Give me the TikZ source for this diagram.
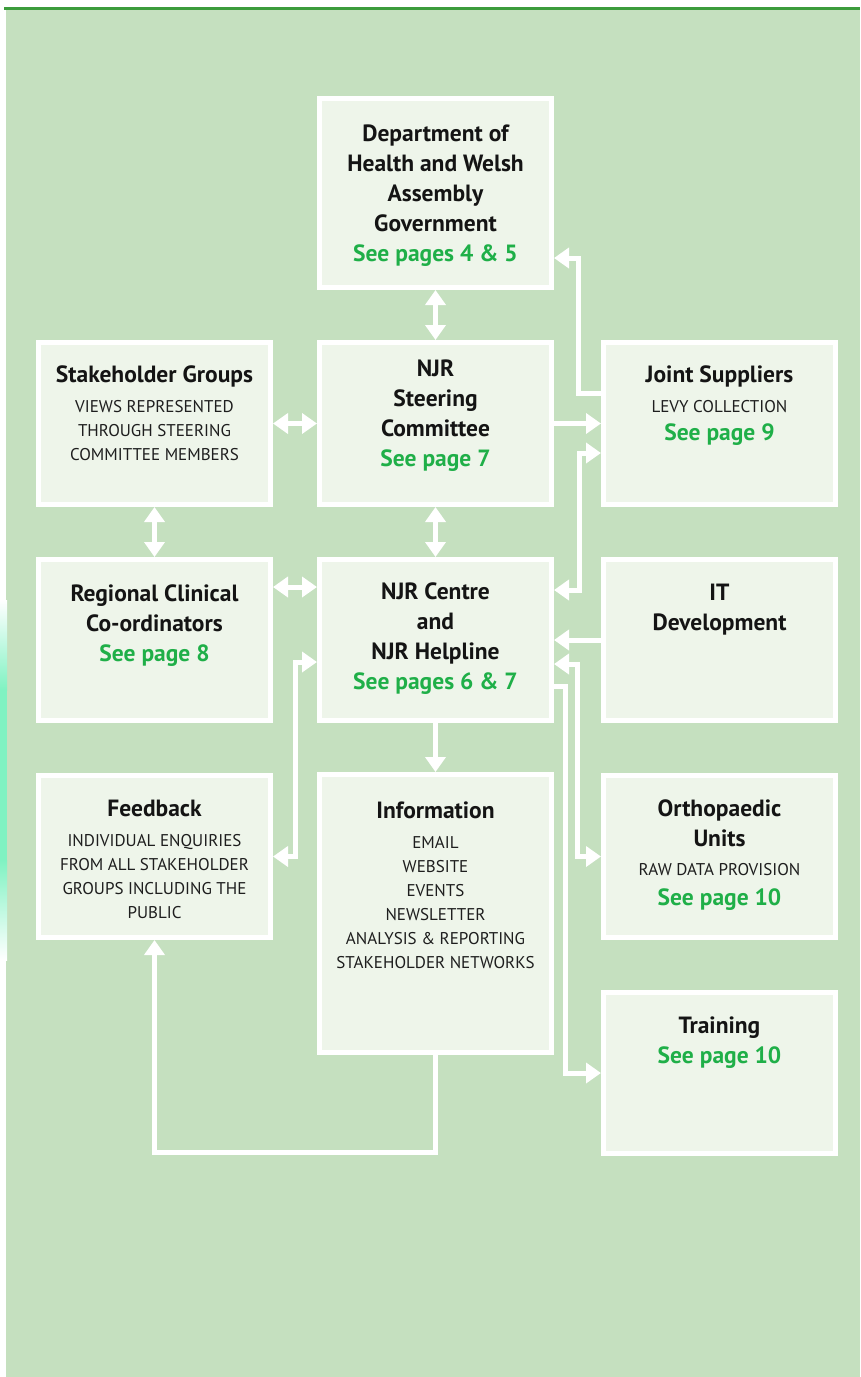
\documentclass[tikz,border=0pt]{standalone}
\usepackage{fontspec}
\setmainfont{PT Sans}
\usetikzlibrary{arrows.meta,positioning}
\definecolor{bggreen}{HTML}{C5E0BF}
\definecolor{boxgreen}{HTML}{EEF5EA}
\definecolor{topgreen}{HTML}{3C9C3C}
\definecolor{pagegreen}{HTML}{1FAF48}
\definecolor{capgray}{HTML}{1E1E1E}
\definecolor{mint}{HTML}{80F2C2}
\newcommand\pagesee[1]{{\color{pagegreen}#1}}
\newcommand\subcaps[1]{{\fontsize{17}{24}\selectfont\mdseries\color{capgray}#1}}

\begin{document}
\begin{tikzpicture}[x=1pt,y=-1pt,
	box/.style={draw=white,line width=5pt,fill=boxgreen,minimum width=232pt,inner sep=0pt},
	txt/.style={anchor=north,align=center,inner sep=0pt,text=black!92,font=\fontsize{23.5}{30}\selectfont\bfseries},
	link/.style={white,line width=5pt},
	arr/.style={link,-{Triangle[length=15pt,width=20pt]}},
	dbl/.style={link,{Triangle[length=15pt,width=20pt]}-{Triangle[length=15pt,width=20pt]}}]
	\useasboundingbox (0,0) rectangle (860,1377);
	% page background
	\fill[white] (0,0) rectangle (860,1377);
	\fill[bggreen] (6,10) rectangle (860,1377);
	\fill[topgreen] (4,7) rectangle (860,10);
	\shade[top color=white,bottom color=mint] (0,600) rectangle (7,690);
	\fill[mint] (0,690) rectangle (7,860);
	\shade[top color=mint,bottom color=white] (0,860) rectangle (7,960);
	
	% boxes
	\node[box,minimum height=189pt] (dept) at (435.5,193) {};
	\node[box,minimum height=162pt] (stake) at (154.5,423.5) {};
	\node[box,minimum height=162pt] (steer) at (435.5,423.5) {};
	\node[box,minimum height=162pt] (joint) at (719.5,423.5) {};
	\node[box,minimum height=161pt] (region) at (154.5,640) {};
	\node[box,minimum height=161pt] (centre) at (435.5,640) {};
	\node[box,minimum height=161pt] (it) at (719.5,640) {};
	\node[box,minimum height=162pt] (feedback) at (154.5,856.5) {};
	\node[box,minimum height=278pt] (info) at (435.5,913.5) {};
	\node[box,minimum height=162pt] (ortho) at (719.5,856.5) {};
	\node[box,minimum height=161pt] (training) at (719.5,1073) {};
	
	% texts
	\node[txt] (deptT) at (435.5,125) {Department of\\Health and Welsh\\Assembly\\Government\\\pagesee{See pages 4 \& 5}};
	\node[txt] (stakeT) at (154.5,366) {Stakeholder Groups\\\subcaps{VIEWS REPRESENTED}\\[-6pt]\subcaps{THROUGH STEERING}\\[-6pt]\subcaps{COMMITTEE MEMBERS}};
	\node[txt] (steerT) at (435.5,360) {NJR\\Steering\\Committee\\\pagesee{See page 7}};
	\node[txt] (jointT) at (719.5,366) {Joint Suppliers\\\subcaps{LEVY COLLECTION}\\[-2pt]\pagesee{See page 9}};
	\node[txt] (regionT) at (154.5,585) {Regional Clinical\\Co-ordinators\\\pagesee{See page 8}};
	\node[txt] (centreT) at (435.5,583) {NJR Centre\\and\\NJR Helpline\\\pagesee{See pages 6 \& 7}};
	\node[txt] (itT) at (719.5,584) {IT\\Development};
	\node[txt] (feedbackT) at (154.5,800) {Feedback\\\subcaps{INDIVIDUAL ENQUIRIES}\\[-6pt]\subcaps{FROM ALL STAKEHOLDER}\\[-6pt]\subcaps{GROUPS INCLUDING THE}\\[-6pt]\subcaps{PUBLIC}};
	\node[txt] (infoT) at (435.5,802) {Information\\\subcaps{EMAIL}\\[-6pt]\subcaps{WEBSITE}\\[-6pt]\subcaps{EVENTS}\\[-6pt]\subcaps{NEWSLETTER}\\[-6pt]\subcaps{ANALYSIS \& REPORTING}\\[-6pt]\subcaps{STAKEHOLDER NETWORKS}};
	\node[txt] (orthoT) at (719.5,800) {Orthopaedic\\Units\\[-1pt]\subcaps{RAW DATA PROVISION}\\\pagesee{See page 10}};
	\node[txt] (trainingT) at (719.5,1017) {Training\\\pagesee{See page 10}};
	
	% connectors
	\draw[dbl] (dept.south) -- (steer.north);
	\draw[dbl] (stake.east) -- (steer.west);
	\draw[dbl] (stake.south) -- (region.north);
	\draw[dbl] (steer.south) -- (centre.north);
	\draw[dbl] ([yshift=53pt]region.east) -- ([yshift=53pt]centre.west);
	\draw[arr] (centre.south) -- (info.north);
	\draw[arr] (steer.east) -- (joint.west);
	\draw[arr] ([yshift=30.5pt]joint.west) -| ([xshift=24pt,yshift=-65pt]dept.east) -- ([yshift=-65pt]dept.east);
	\draw[dbl] ([yshift=-29.5pt]joint.west) -| ([xshift=25pt,yshift=50pt]centre.east) -- ([yshift=50pt]centre.east);
	\draw[arr] (it.west) -- (centre.east);
	\draw[dbl] ([yshift=-24pt]centre.east) -| ([xshift=-24pt]ortho.west) -- (ortho.west);
	\draw[arr] ([yshift=-46pt]centre.east) -| ([xshift=-36pt]training.west) -- (training.west);
	\draw[dbl] ([yshift=-22pt]centre.west) -| ([xshift=22pt]feedback.east) -- (feedback.east);
	\draw[arr] (info.south) -- ++(0,97) -| (feedback.south);
\end{tikzpicture}
\end{document}
